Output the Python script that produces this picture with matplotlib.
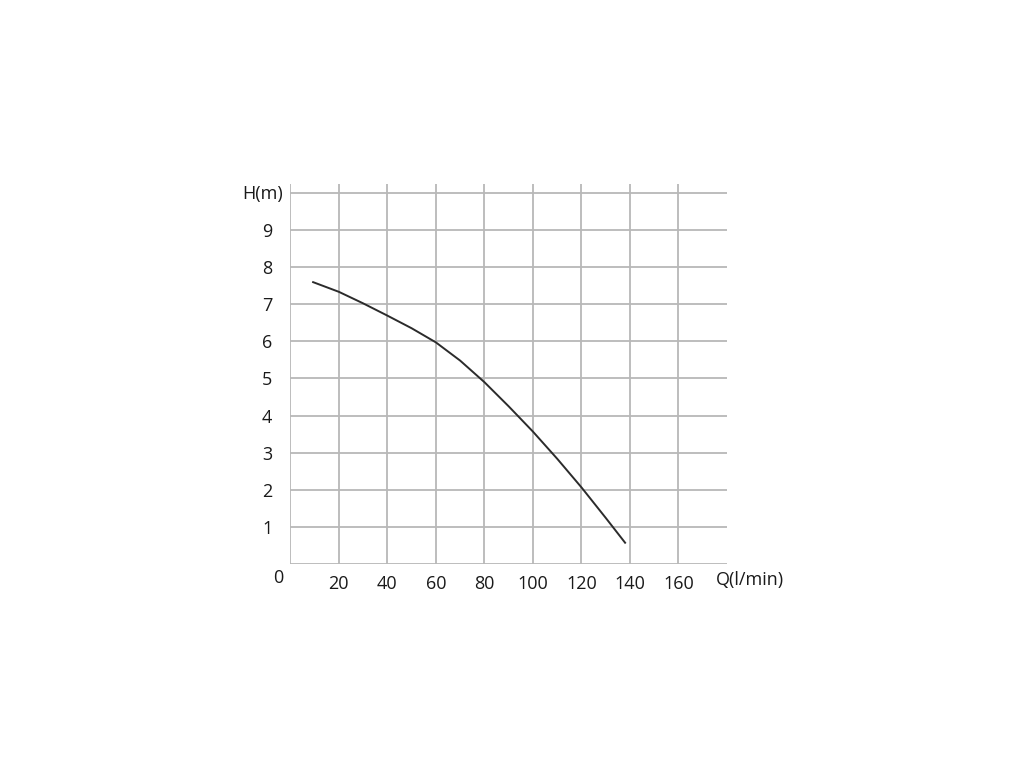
import matplotlib
matplotlib.use("Agg")
import matplotlib.pyplot as plt

# Data
flow = [9.4, 20, 30, 40, 50, 60, 70, 80, 90, 100, 110, 120, 130, 138]
head = [7.59, 7.33, 7.02, 6.69, 6.35, 5.97, 5.48, 4.90, 4.25, 3.57, 2.84, 2.07, 1.25, 0.58]

x_ticks = [20, 40, 60, 80, 100, 120, 140, 160]
y_ticks = [1, 2, 3, 4, 5, 6, 7, 8, 9]
x_grid = [0, 20, 40, 60, 80, 100, 120, 140, 160]
y_grid = [0, 1, 2, 3, 4, 5, 6, 7, 8, 9, 10]
x_label = "Q(l/min)"
y_label = "H(m)"

plt.rcParams['font.family'] = ['Open Sans', 'DejaVu Sans']

W, H = 1024, 768
fig = plt.figure(figsize=(W / 100, H / 100), dpi=100)
left, right, bottom, top = 290.3, 727.0, 564.3, 184.0
ax = fig.add_axes([left / W, 1 - bottom / H, (right - left) / W, (bottom - top) / H])
ax.set_xlim(0, 180)
ax.set_ylim(0, 10.23)
for s in ax.spines.values():
    s.set_visible(False)

grid_color = "#b8b8b8"
for v in x_grid:
    ax.axvline(v, color=grid_color, lw=1.3, zorder=1)
for v in y_grid:
    ax.axhline(v, color=grid_color, lw=1.3, zorder=1)

ax.plot(flow, head, color="#2b2b2b", lw=1.4, zorder=3)

fs = 13
ax.set_xticks(x_ticks)
ax.set_xticklabels([str(t) for t in x_ticks])
ax.set_yticks(y_ticks)
ax.set_yticklabels([str(t) for t in y_ticks])
ax.tick_params(axis='both', length=0, labelsize=fs, colors="#1a1a1a")
ax.tick_params(axis='x', pad=7.5)
ax.tick_params(axis='y', pad=13)

ax.text(-5.0, -0.36, "0", ha='center', va='center', fontsize=fs, color="#1a1a1a")
ax.text(-11.3, 9.95, y_label, ha='center', va='center', fontsize=fs, color="#1a1a1a")
ax.text(189.4, -0.42, x_label, ha='center', va='center', fontsize=fs, color="#1a1a1a")

fig.savefig("out.png", dpi=100, facecolor="white")
